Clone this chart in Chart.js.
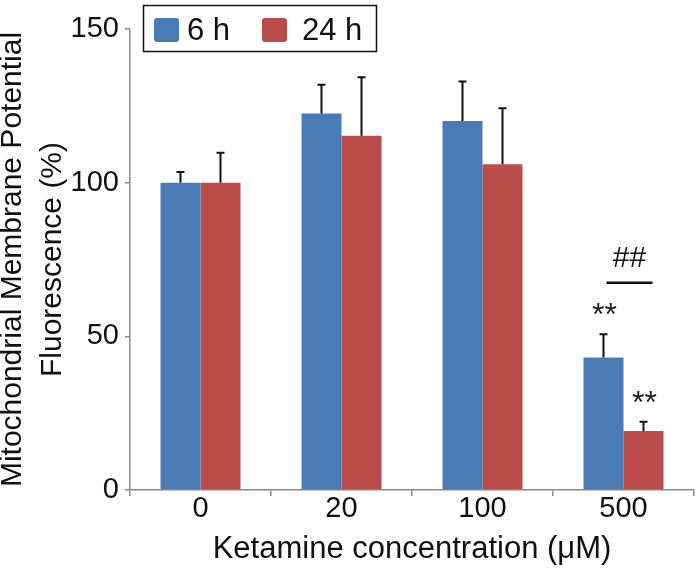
<!DOCTYPE html>
<html>
<head>
<meta charset="utf-8">
<script src="https://cdn.jsdelivr.net/npm/chart.js@4"></script>
<style>
  html, body { margin: 0; padding: 0; background: #fff; }
  #wrap { width: 700px; height: 581px; }
</style>
</head>
<body>
<div id="wrap"><canvas id="chart" width="700" height="581"></canvas></div>
<script>
// data
const categories = ['0', '20', '100', '500'];
const seriesNames = ['6 h', '24 h'];
const mean6h  = [100, 122.5, 120.1, 43.1];
const mean24h = [100, 115.3, 106.0, 19.2];
const err6h   = [3.5, 9.4, 12.8, 7.6];   // upper error only
const err24h  = [9.7, 19.0, 18.2, 3.0];
const stars6h  = ['', '', '', '**'];
const stars24h = ['', '', '', '**'];
const yTicks = [0, 50, 100, 150];

const BLUE = '#4A7BB5';
const RED  = '#BA4D4A';
const FONT = '"Liberation Sans", Arial, sans-serif';

// upward error bars + significance marks
const errorBars = {
  id: 'errorBars',
  afterDatasetsDraw(chart) {
    const ctx = chart.ctx;
    const y = chart.scales.y;
    const errs = [err6h, err24h];
    const stars = [stars6h, stars24h];
    ctx.save();
    chart.data.datasets.forEach((ds, di) => {
      const meta = chart.getDatasetMeta(di);
      meta.data.forEach((bar, i) => {
        const top = y.getPixelForValue(ds.data[i] + errs[di][i]);
        ctx.strokeStyle = '#111';
        ctx.lineWidth = 2;
        ctx.beginPath();
        ctx.moveTo(bar.x, bar.y);
        ctx.lineTo(bar.x, top);
        ctx.moveTo(bar.x - 4, top);
        ctx.lineTo(bar.x + 4, top);
        ctx.stroke();
        if (stars[di][i]) {
          ctx.fillStyle = '#222';
          ctx.font = '32px ' + FONT;
          ctx.textAlign = 'center';
          ctx.textBaseline = 'middle';
          ctx.fillText(stars[di][i], bar.x + 1, top - 18);
        }
      });
    });

    // ## comparing 6 h vs 24 h at 500
    const x = chart.scales.x.getPixelForValue(3) + 6;
    const ly = y.getPixelForValue(67.4);
    ctx.strokeStyle = '#111';
    ctx.lineWidth = 2.5;
    ctx.beginPath();
    ctx.moveTo(x - 23, ly);
    ctx.lineTo(x + 23, ly);
    ctx.stroke();
    ctx.fillStyle = '#111';
    ctx.font = '30px ' + FONT;
    ctx.textAlign = 'center';
    ctx.textBaseline = 'middle';
    ctx.fillText('##', x, ly - 24);
    ctx.restore();
  }
};

// boxed legend at top left
const boxLegend = {
  id: 'boxLegend',
  afterDraw(chart) {
    const ctx = chart.ctx;
    ctx.save();
    ctx.strokeStyle = '#111';
    ctx.lineWidth = 1.5;
    ctx.strokeRect(143.5, 5.5, 233, 46);
    const items = [
      { x: 154, tx: 187, color: BLUE, label: seriesNames[0] },
      { x: 262, tx: 302, color: RED,  label: seriesNames[1] },
    ];
    ctx.font = '31px ' + FONT;
    ctx.textBaseline = 'middle';
    ctx.textAlign = 'left';
    items.forEach(it => {
      ctx.fillStyle = it.color;
      ctx.beginPath();
      ctx.roundRect(it.x, 18, 25, 24, 3);
      ctx.fill();
      ctx.fillStyle = '#111';
      ctx.fillText(it.label, it.tx, 31);
    });
    ctx.restore();
  }
};

new Chart(document.getElementById('chart'), {
  type: 'bar',
  data: {
    labels: categories,
    datasets: [
      { label: seriesNames[0], data: mean6h,  backgroundColor: BLUE },
      { label: seriesNames[1], data: mean24h, backgroundColor: RED },
    ]
  },
  options: {
    responsive: false,
    animation: false,
    devicePixelRatio: 1,
    layout: { padding: { top: 29, right: 6, left: 0, bottom: 0 } },
    datasets: { bar: { categoryPercentage: 0.5674, barPercentage: 1 } },
    plugins: { legend: { display: false }, tooltip: { enabled: false } },
    scales: {
      x: {
        afterFit: s => { s.height = 91; },
        border: { color: '#8a8a8a', width: 1.5 },
        grid: { drawOnChartArea: false, color: '#8a8a8a', lineWidth: 1.5, tickLength: 6, offset: true },
        ticks: { color: '#111', font: { family: FONT, size: 29 }, padding: -4, maxRotation: 0 },
        title: {
          display: true,
          text: 'Ketamine concentration (μM)',
          color: '#111',
          font: { family: FONT, size: 31 },
          padding: { top: 0, bottom: 13 }
        }
      },
      y: {
        min: 0,
        max: 150,
        afterFit: s => { s.width = 130; },
        afterBuildTicks: s => { s.ticks = yTicks.map(v => ({ value: v })); },
        border: { color: '#8a8a8a', width: 1.5 },
        grid: { drawOnChartArea: false, color: '#8a8a8a', lineWidth: 1.5, tickLength: 5 },
        ticks: { color: '#111', font: { family: FONT, size: 29 }, padding: 6 },
        title: {
          display: true,
          text: ['Mitochondrial Membrane Potential', 'Fluorescence (%)'],
          color: '#111',
          font: { family: FONT, size: 30, lineHeight: 1.333 },
          padding: { top: -7, bottom: 0 }
        }
      }
    }
  },
  plugins: [errorBars, boxLegend]
});
</script>
</body>
</html>
